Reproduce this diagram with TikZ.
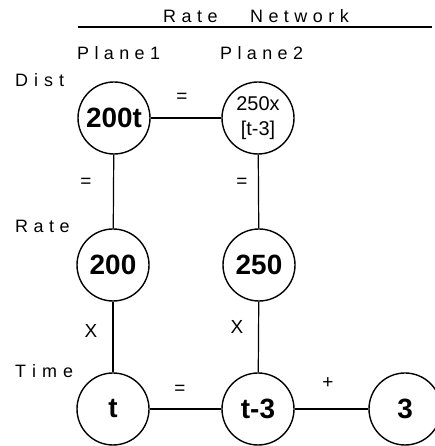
\documentclass[tikz,border=0pt]{standalone}
\usepackage{fontspec}
\setmainfont{Liberation Sans}
\makeatletter
\newcommand\myspaced[2]{\def\my@sep{#1}\@tfor\my@c:=#2\do{\my@c\kern\my@sep}}
\makeatother
\begin{document}
\begin{tikzpicture}[x=1bp,y=1bp,
  lbl/.style={font=\fontsize{18}{18}\selectfont, inner sep=0, anchor=base west},
  elbl/.style={font=\fontsize{19}{19}\selectfont, inner sep=0},
  val/.style={draw, shape=circle, line width=1.4bp, minimum size=72bp, inner sep=0pt, font=\fontsize{28}{28}\selectfont\bfseries},
  conn/.style={line width=1.2bp}]
\useasboundingbox (0,0) rectangle (435,446);
% title
\node[lbl] (title) at (163,423) {\myspaced{5.5bp}{Rate}\hspace{27bp}\myspaced{5.5bp}{Network}};
\coordinate (ulA) at (78,419);
\coordinate (ulB) at (432,419);
\draw[conn] (ulA) -- (ulB);
% column / row labels
\node[lbl] (p1) at (77,386) {\myspaced{5.4bp}{Plane1}};
\node[lbl] (p2) at (220,386) {\myspaced{5.4bp}{Plane2}};
\node[lbl] (dist) at (15,359) {\myspaced{6bp}{Dist}};
\node[lbl] (rate) at (15,213) {\myspaced{5.5bp}{Rate}};
\node[lbl] (time) at (15,68) {\myspaced{6bp}{Time}};
% value nodes
\node[val] (A) at (114,328) {200t};
\node[val, font=\fontsize{20}{25}\selectfont, align=center] (B) at (258,328) {250x\\\relax[t-3]};
\node[val] (C) at (113,181) {200};
\node[val] (D) at (259,181) {250};
\node[val] (E) at (113,37) {t};
\node[val] (F) at (258,37) {t-3};
\node[val] (G) at (405,37) {3};
% connectors
\draw[conn] (A) -- (B);
\draw[conn] (A) -- (C);
\draw[conn] (B) -- (D);
\draw[conn] (C) -- (E);
\draw[conn] (D) -- (F);
\draw[conn] (E) -- (F);
\draw[conn] (F) -- (G);
% connector labels
\node[elbl] (eAB) at (182,348) {=};
\node[elbl] (eAC) at (86,263) {=};
\node[elbl] (eBD) at (242,263) {=};
\node[elbl] (eCE) at (91,115) {X};
\node[elbl] (eDF) at (237,119) {X};
\node[elbl] (eEF) at (180,56) {=};
\node[elbl] (eFG) at (328,63) {+};
\end{tikzpicture}
\end{document}
